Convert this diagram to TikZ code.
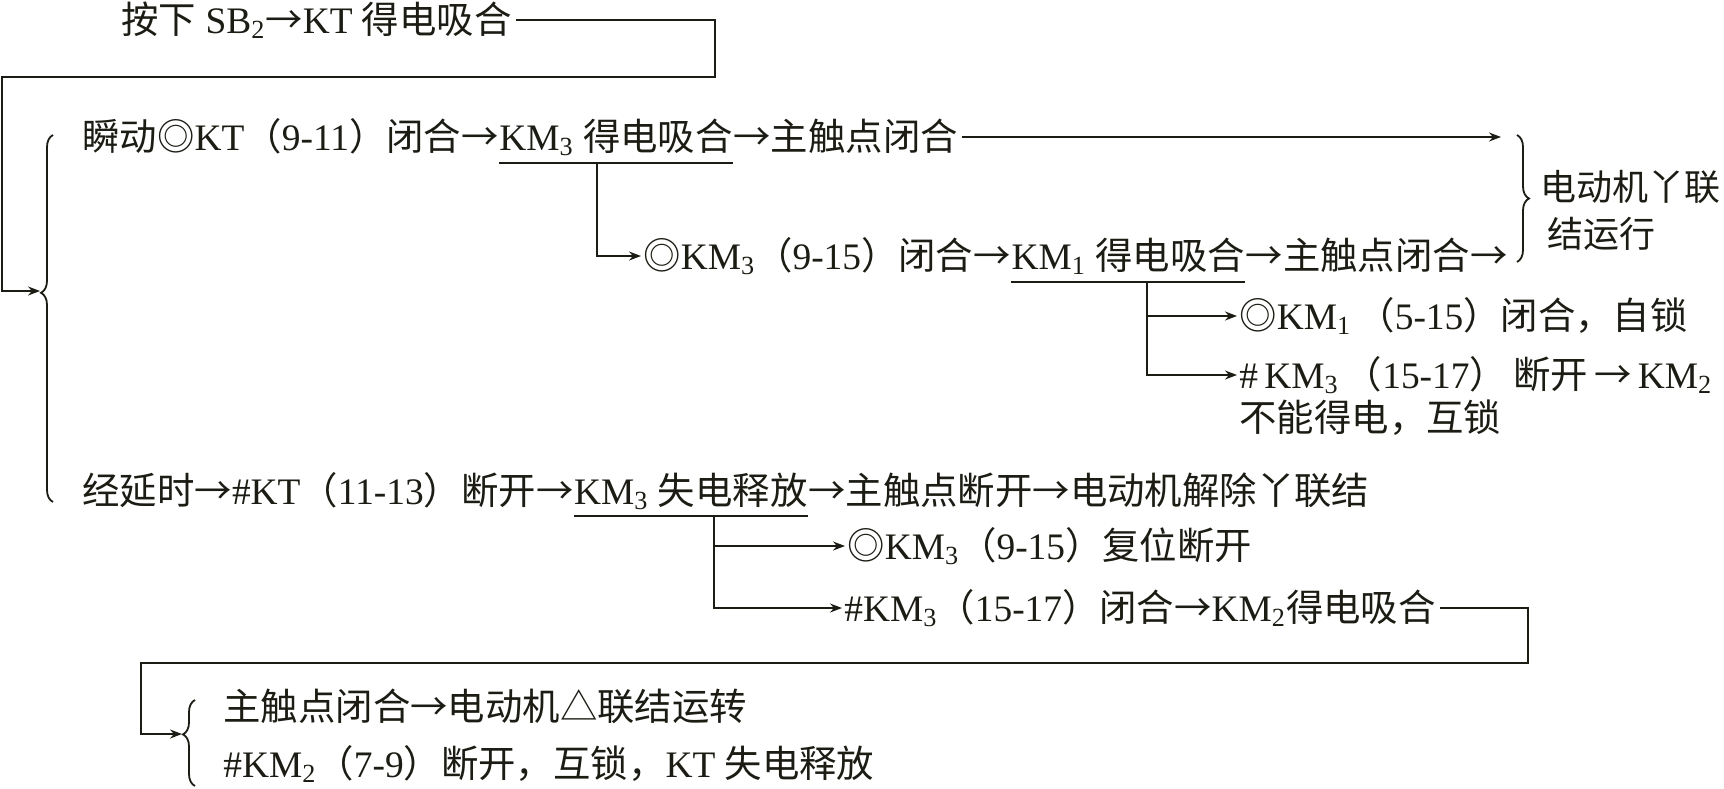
\documentclass[tikz,border=0pt]{standalone}
\usepackage{fontspec}
\setmainfont{Liberation Serif}
\newfontfamily\cjk{Noto Sans CJK SC}
\usetikzlibrary{calc,arrows.meta,decorations.pathreplacing}
\newcommand\zh[1]{{\cjk #1}}
\newcommand\ar{{\cjk →}}
\newcommand\sbs[1]{\textsubscript{#1}}
\definecolor{ink}{HTML}{1C1C14}
\definecolor{bg}{HTML}{FFFFFF}
\begin{document}
\begin{tikzpicture}[x=0.5pt,y=-0.5pt,
  txt/.style={inner sep=0pt, anchor=base west, font=\fontsize{18.7pt}{22pt}\selectfont, text=ink},
  ln/.style={line width=0.9pt, draw=ink},
  arr/.style={ln, -{Stealth[length=6pt,width=4.5pt,inset=2pt]}},
  lbrace/.style={ln, decorate, decoration={brace, amplitude=6pt, #1}},
  lbrace/.default={aspect=0.5}]
\fill[bg] (0,0) rectangle (1724,788);
\useasboundingbox (0,0) rectangle (1724,788);

% row 1
\node[txt] (t1) at (121,33) {\zh{按下} SB\sbs{2}\ar KT \zh{得电吸合}};
\coordinate (b1) at (40,291);
\draw[arr] ($(t1.base east)+(4,-13)$) -| (715,77) -| (2,291) -- (b1);
\draw[lbrace={aspect=0.57}] (53,502) -- (53,135);

% row 2
\node[txt] (r2a) at (82,150) {\zh{瞬动◎}KT\zh{（}9-11\zh{）闭合}\ar};
\node[txt] (r2b) at (r2a.base east) {KM\sbs{3} \zh{得电吸合}};
\node[txt] (r2c) at (r2b.base east) {\ar\zh{主触点闭合}};
\draw[ln] ($(r2b.base west)+(0,13)$) -- ($(r2b.base east)+(0,13)$);
\coordinate (rb1) at (1501,137);
\draw[arr] ($(r2c.base east)+(4,-13)$) -- (rb1);

% row 3
\node[txt] (r3a) at (643,269) {\zh{◎}KM\sbs{3}\zh{（}9-15\zh{）闭合}\ar};
\node[txt] (r3b) at (r3a.base east) {KM\sbs{1} \zh{得电吸合}};
\node[txt] (r3c) at (r3b.base east) {\ar\zh{主触点闭合}\ar};
\draw[ln] ($(r3b.base west)+(0,13)$) -- ($(r3b.base east)+(0,13)$);
\draw[arr] ($(r2b.base west)!0.42!(r2b.base east)+(0,13)$) |- ($(r3a.base west)+(-2,-13)$);

% right brace
\draw[lbrace] (1517,135) -- (1517,262);
\node[txt, font=\fontsize{18pt}{22pt}\selectfont] (rt1) at (1540,200) {\zh{电动机丫联}};
\node[txt, font=\fontsize{18pt}{22pt}\selectfont] (rt2) at (1547,247) {\zh{结运行}};

% KM1 branches
\coordinate (u3) at ($(r3b.base west)!0.58!(r3b.base east)+(0,13)$);
\node[txt] (r4) at (1239,329) {\zh{◎}KM\sbs{1}\,\zh{（}5-15\zh{）闭合，自锁}};
\node[txt] (r5) at (1239,388) {\#\,KM\sbs{3}\,\zh{（}15-17\zh{）}\,\zh{断开}\,\ar\,KM\sbs{2}};
\node[txt] (r5b) at (1239,431) {\zh{不能得电，互锁}};
\draw[arr] (u3) |- ($(r4.base west)+(-2,-13)$);
\draw[arr] (u3) |- ($(r5.base west)+(-2,-13)$);

% row 4
\node[txt] (r6a) at (82,504) {\zh{经延时}\ar\#KT\zh{（}11-13\zh{）断开}\ar};
\node[txt] (r6b) at (r6a.base east) {KM\sbs{3} \zh{失电释放}};
\node[txt] (r6c) at (r6b.base east) {\ar\zh{主触点断开}\ar\zh{电动机解除丫联结}};
\draw[ln] ($(r6b.base west)+(0,12)$) -- ($(r6b.base east)+(0,12)$);
\coordinate (u6) at ($(r6b.base west)!0.6!(r6b.base east)+(0,12)$);

% KM3 release branches
\node[txt] (r7) at (847,559) {\zh{◎}KM\sbs{3}\zh{（}9-15\zh{）复位断开}};
\node[txt] (r8) at (844,621) {\#KM\sbs{3}\zh{（}15-17\zh{）闭合}\ar KM\sbs{2}\zh{得电吸合}};
\draw[arr] (u6) |- ($(r7.base west)+(-2,-13)$);
\draw[arr] (u6) |- ($(r8.base west)+(-2,-13)$);

% return to bottom
\coordinate (b3) at (182,734);
\draw[arr] ($(r8.base east)+(4,-13)$) -| (1528,663) -| (141,734) -- (b3);
\draw[lbrace={aspect=0.6}] (195,786) -- (195,700);
\node[txt] (r9) at (223,720) {\zh{主触点闭合}\ar\zh{电动机△联结运转}};
\node[txt] (r10) at (223,777) {\#KM\sbs{2}\zh{（}7-9\zh{）断开，互锁，}KT \zh{失电释放}};
\end{tikzpicture}
\end{document}
